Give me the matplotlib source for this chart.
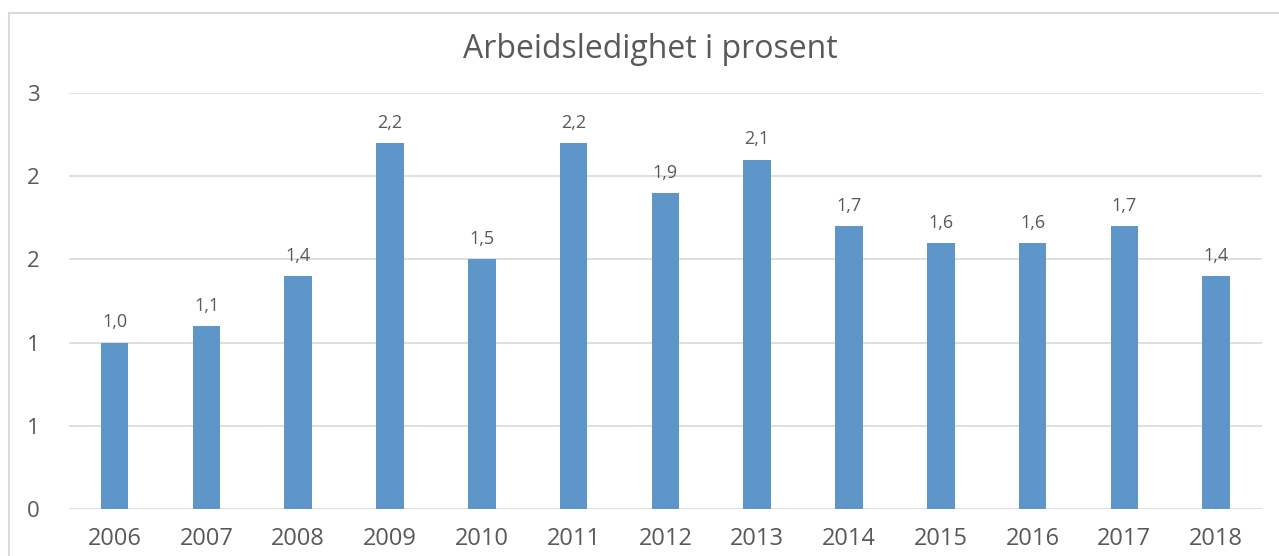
import numpy as np
import matplotlib
matplotlib.use("Agg")
from matplotlib import pyplot as plt
from matplotlib.ticker import FuncFormatter, MultipleLocator
from matplotlib.patches import Rectangle

aar = ["2006", "2007", "2008", "2009", "2010", "2011", "2012",
       "2013", "2014", "2015", "2016", "2017", "2018"]
ledighet = [1.0, 1.1, 1.4, 2.2, 1.5, 2.2, 1.9, 2.1, 1.7, 1.6, 1.6, 1.7, 1.4]

tekst = "#595959"
blaa = "#5F96CA"
rutenett = "#D9D9D9"

plt.rcParams['font.family'] = ['Open Sans', 'DejaVu Sans']

fig = plt.figure(figsize=(12.79, 5.56), dpi=100)
# ramme rundt diagrammet (går ut over høyre og nedre kant)
topp = 1 - 13 / 556
fig.patches.append(Rectangle((9 / 1279, -0.2), 1.2, topp + 0.2,
                             transform=fig.transFigure, fill=False,
                             edgecolor=rutenett, linewidth=1.5))

ax = fig.add_axes([68.8 / 1279, 1 - 509 / 556, (1262 - 68.8) / 1279, (509 - 93) / 556])
x = np.arange(len(aar))
stolper = ax.bar(x, ledighet, width=0.3, color=blaa, zorder=3)

for s, v in zip(stolper, ledighet):
    ax.annotate(f"{v:.1f}".replace(".", ","), (s.get_x() + s.get_width() / 2, v),
                xytext=(0, 8), textcoords="offset points", ha="center", va="bottom",
                fontsize=13, color=tekst)

ax.set_xlim(-0.5, len(aar) - 0.5)
ax.set_ylim(0, 2.5)
ax.yaxis.set_major_locator(MultipleLocator(0.5))
# Excel-aktig avrunding av aksetallene (0,5 -> 1)
ax.yaxis.set_major_formatter(FuncFormatter(lambda v, p: f"{int(np.floor(v + 0.5 + 1e-9))}"))
ax.grid(axis="y", color=rutenett, linewidth=1.2, zorder=0)
ax.set_xticks(x)
ax.set_xticklabels(aar)
ax.tick_params(axis="x", length=0, pad=13, labelsize=17, labelcolor=tekst)
ax.tick_params(axis="y", length=0, pad=21, labelsize=16, labelcolor=tekst)
for sp in ax.spines.values():
    sp.set_visible(False)

fig.text(650 / 1279, 1 - 49 / 556, "Arbeidsledighet i prosent", ha="center", va="center",
         fontsize=23, color=tekst)

fig.savefig("out.png", dpi=100)
